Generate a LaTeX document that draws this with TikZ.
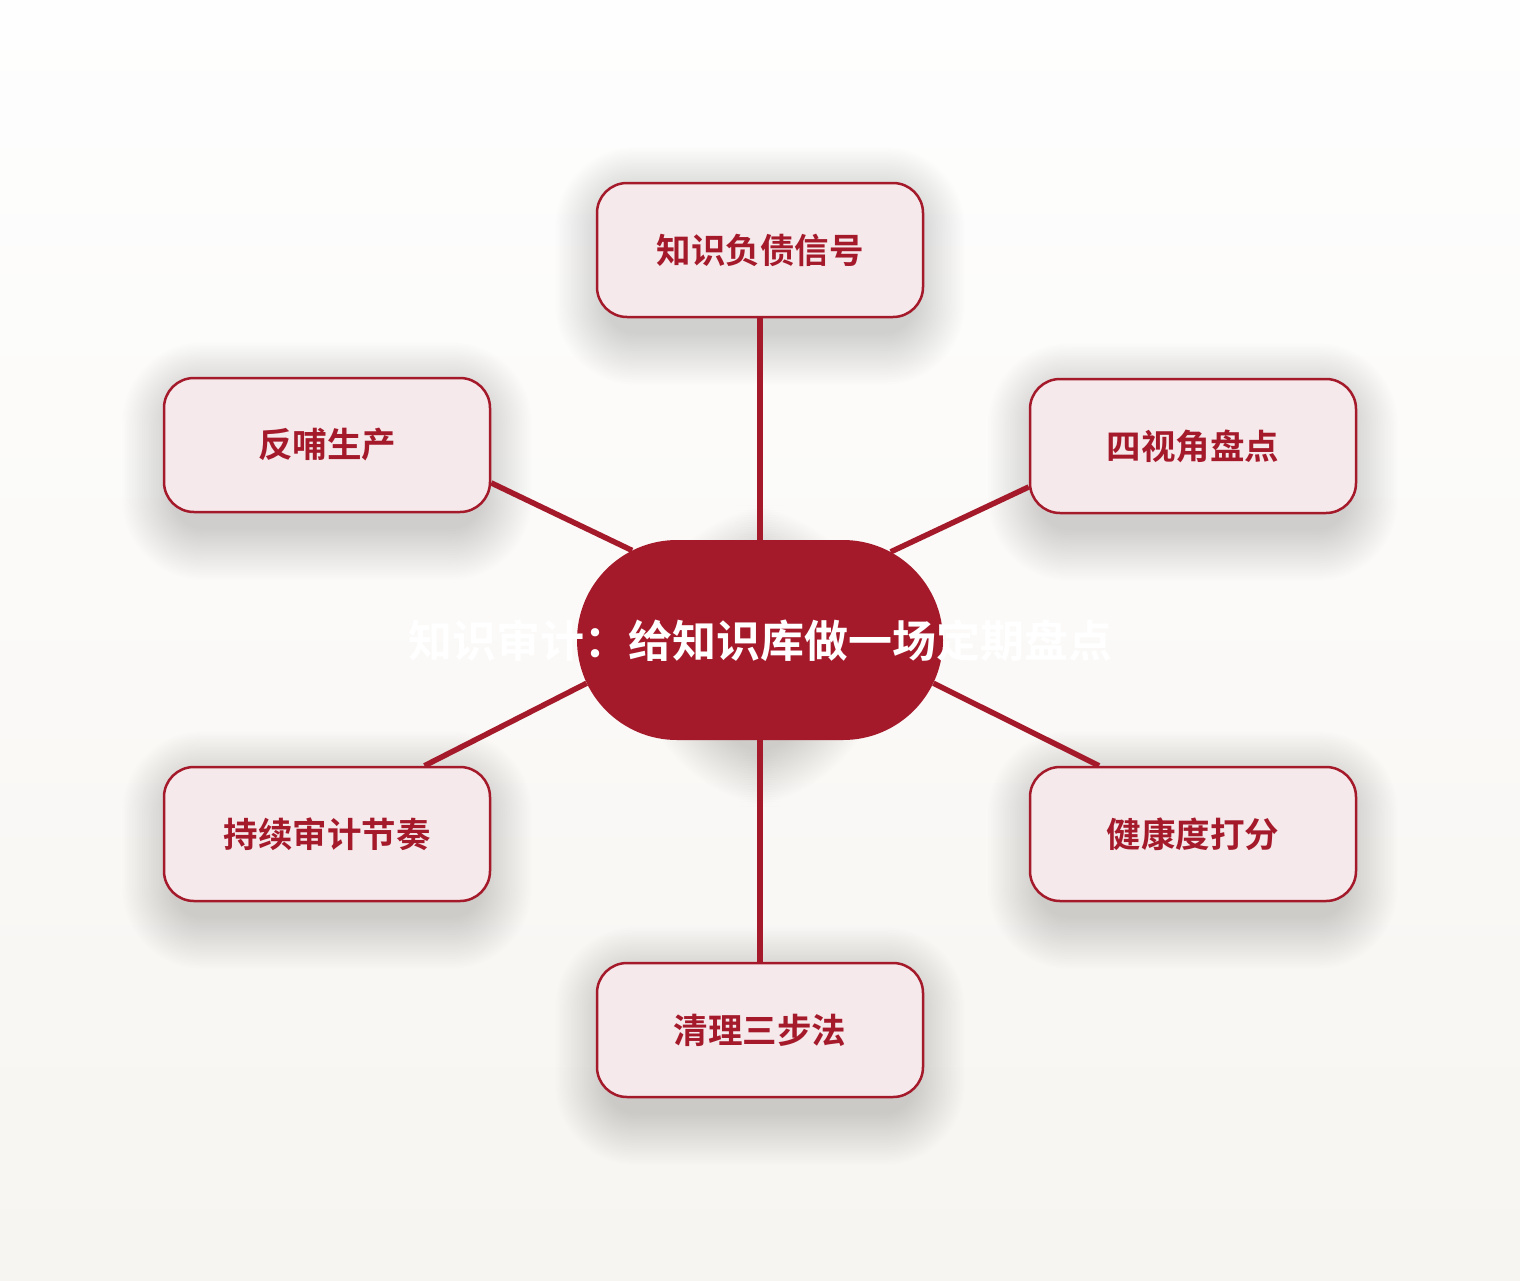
\documentclass[tikz,border=0pt]{standalone}
\usepackage{fontspec}
\newfontfamily\cjk{Noto Sans CJK SC}[BoldFont={Noto Sans CJK SC Bold}]
\usetikzlibrary{shapes.misc}
\definecolor{hred}{HTML}{A51A2B}
\definecolor{boxfill}{HTML}{F5E9EB}
\definecolor{bgtop}{HTML}{FEFEFE}
\definecolor{bgbot}{HTML}{F7F5F1}
\pgfdeclarelayer{shadowlayer}
\pgfsetlayers{shadowlayer,main}
\tikzset{
  leaf/.style={draw=hred, line width=2.5pt, fill=boxfill, rounded corners=30pt,
    minimum width=326pt, minimum height=134pt, text=hred,
    font=\cjk\bfseries\fontsize{34.5}{40}\selectfont},
  hub/.style={rounded rectangle, fill=hred, minimum width=366pt, minimum height=200pt,
    inner sep=0pt},
  title/.style={text=white, font=\cjk\bfseries\fontsize{44}{52}\selectfont, inner sep=0pt},
  link/.style={draw=hred, line width=5.5pt},
  shadowpiece/.style={fill=black, opacity=0.0075}
}
\begin{document}
\begin{tikzpicture}[x=1pt,y=-1pt]
\node[hub] (c) at (760,640) {};
\node[leaf] (t) at (760,250) {知识负债信号};
\node[leaf] (lu) at (327,445) {反哺生产};
\node[leaf] (ru) at (1193,446) {四视角盘点};
\node[leaf] (ll) at (327,834) {持续审计节奏};
\node[leaf] (rl) at (1193,834) {健康度打分};
\node[leaf] (b) at (760,1030) {清理三步法};
\begin{pgfonlayer}{shadowlayer}
\shade[top color=bgtop, bottom color=bgbot] (0,0) rectangle (1520,1280);
\foreach \n in {t,lu,ru,ll,rl,b}{
  \foreach \i in {0,...,21}{
    \fill[shadowpiece, rounded corners=30pt+2.4*\i pt]
      ([xshift=-2.4*\i pt+10pt, yshift=2.4*\i pt-16pt]\n.north west) rectangle
      ([xshift=2.4*\i pt-10pt, yshift=-2.4*\i pt-16pt]\n.south east);
  }
}
\foreach \i in {0,...,21}{
  \fill[shadowpiece, rounded corners=100pt+2.4*\i pt]
    ([xshift=-2.4*\i pt+10pt, yshift=2.4*\i pt-16pt]c.north west) rectangle
    ([xshift=2.4*\i pt-10pt, yshift=-2.4*\i pt-16pt]c.south east);
}
\end{pgfonlayer}
\useasboundingbox (0,0) rectangle (1520,1280);
\draw[link] (c.90) -- (t.south);
\draw[link] (c.145) -- (lu.-13.5);
\draw[link] (c.34.7) -- (ru.-166.2);
\draw[link] (c.194.4) -- (ll.35.8);
\draw[link] (c.-14.4) -- (rl.144.2);
\draw[link] (c.-90) -- (b.north);
\node[title] (tt) at (760,641) {知识审计：给知识库做一场定期盘点};
\end{tikzpicture}
\end{document}
